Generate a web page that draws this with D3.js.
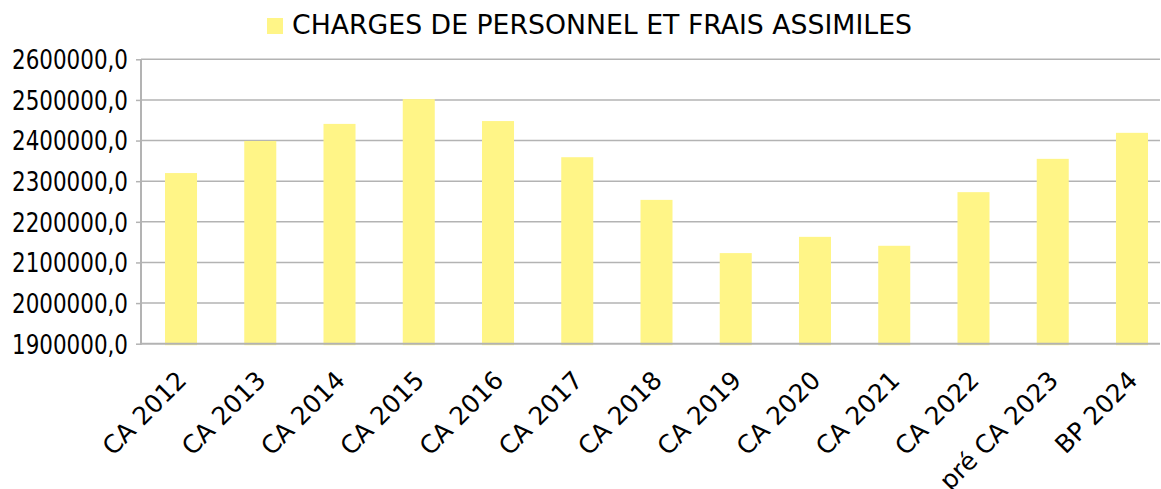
<!DOCTYPE html>
<html><head><meta charset="utf-8">
<script src="https://cdn.jsdelivr.net/npm/d3@7"></script>
<style>body{margin:0;background:#fff}svg{display:block}</style>
</head><body>
<script>
const categories = ["CA 2012","CA 2013","CA 2014","CA 2015","CA 2016","CA 2017","CA 2018","CA 2019","CA 2020","CA 2021","CA 2022","pré CA 2023","BP 2024"];
const values = [2320000,2399000,2441000,2502000,2448000,2359000,2254000,2123000,2163000,2141000,2273000,2355000,2419000];
const seriesName = "CHARGES DE PERSONNEL ET FRAIS ASSIMILES";
const yTicks = [1900000,2000000,2100000,2200000,2300000,2400000,2500000,2600000];

const W = 1161, H = 489;
const m = {left:141, right:1172, gridRight:1160, top:59.3, bottom:343.7};
const svg = d3.select("body").append("svg").attr("width",W).attr("height",H);
const font = "DejaVu Sans, sans-serif";

const x = d3.scaleBand().domain(categories).range([m.left, m.right]).paddingInner(0.596).paddingOuter(0.303);
const y = d3.scaleLinear().domain([1900000,2600000]).range([m.bottom, m.top]);

// gridlines
svg.append("g").selectAll("line").data(yTicks.slice(1)).join("line")
  .attr("x1", m.left).attr("x2", m.gridRight)
  .attr("y1", d=>y(d)).attr("y2", d=>y(d))
  .attr("stroke","#b3b3b3").attr("stroke-width",1.5);

// bars
svg.append("g").selectAll("rect").data(values).join("rect")
  .attr("x",(d,i)=>x(categories[i]))
  .attr("width", x.bandwidth())
  .attr("y", d=>y(d))
  .attr("height", d=>y(1900000)-y(d)+1.5)
  .attr("fill","#fff587");

// axes lines
svg.append("line").attr("x1",m.left).attr("x2",m.left).attr("y1",m.top).attr("y2",m.bottom+1)
  .attr("stroke","#b3b3b3").attr("stroke-width",2);
svg.append("line").attr("x1",m.left).attr("x2",m.gridRight).attr("y1",m.bottom).attr("y2",m.bottom)
  .attr("stroke","#b3b3b3").attr("stroke-width",2);

// y labels
const yAxis = d3.axisLeft(y).tickValues(yTicks).tickSize(5).tickPadding(8)
  .tickFormat(d=>d3.format(".1f")(d).replace(".",","));
const ya = svg.append("g").attr("transform",`translate(${m.left},0)`).call(yAxis);
ya.select(".domain").remove();
ya.selectAll(".tick line").attr("stroke","#b3b3b3").attr("stroke-width",1.5);
ya.selectAll("text").attr("font-family",font).attr("font-size",26).attr("fill","#000")
  .attr("dy","0.36em").attr("textLength",116).attr("lengthAdjust","spacingAndGlyphs");

// x labels
const xAxis = d3.axisBottom(x).tickSize(0).tickPadding(0);
const xa = svg.append("g").attr("transform",`translate(0,${m.bottom})`).call(xAxis);
xa.select(".domain").remove();
xa.selectAll("text").attr("font-family",font).attr("font-size",25).attr("fill","#000")
  .attr("text-anchor","end").attr("dy",null).attr("y",0)
  .attr("transform", `translate(7,38) rotate(-45)`);

// legend
const lg = svg.append("g");
lg.append("rect").attr("x",267).attr("y",18).attr("width",16).attr("height",16).attr("fill","#fff587");
lg.append("text").attr("x",292).attr("y",34).attr("font-family",font).attr("font-size",26.5)
  .attr("textLength",620).attr("lengthAdjust","spacingAndGlyphs")
  .attr("fill","#000").text(seriesName);
</script>
</body></html>
